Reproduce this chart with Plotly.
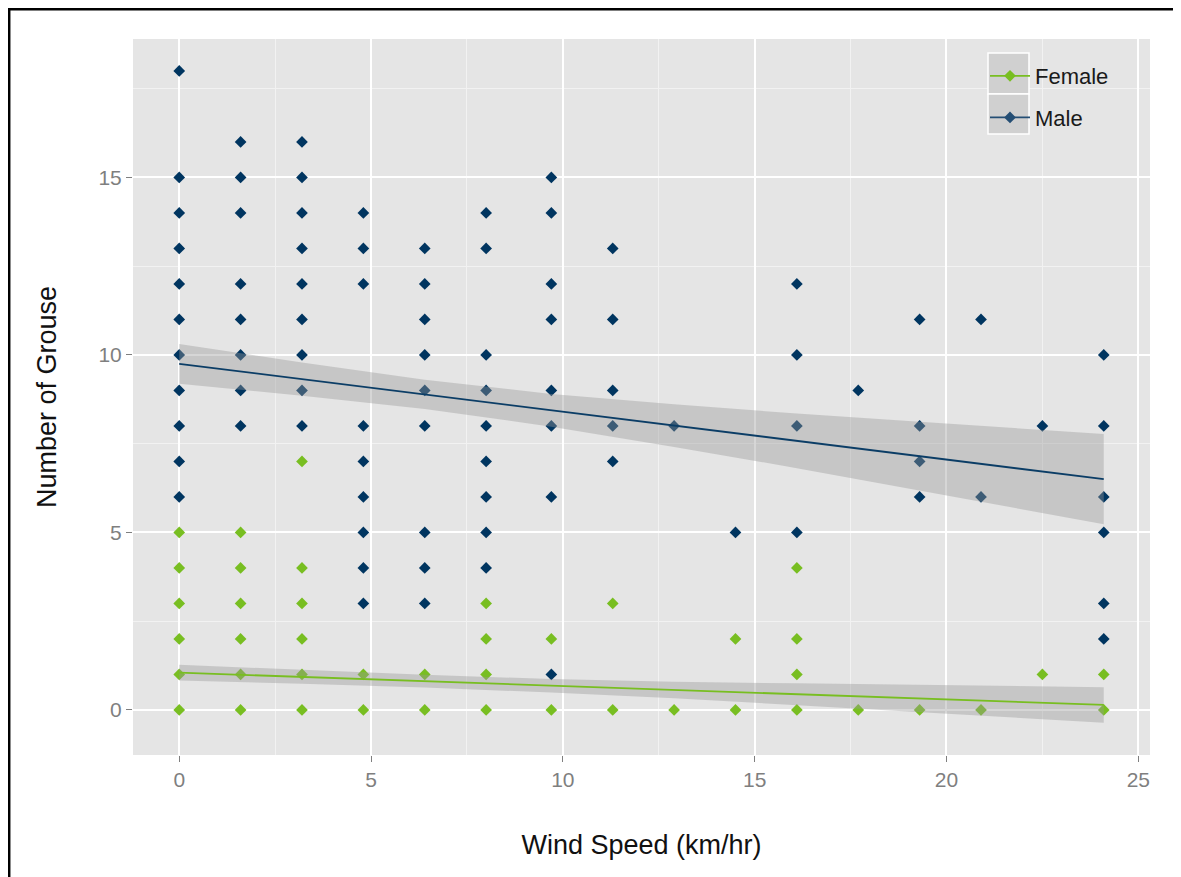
import plotly.graph_objects as go

# ---------------- data ----------------
wind_levels = [0, 1.6, 3.2, 4.8, 6.4, 8.0, 9.7, 11.3, 12.9, 14.5, 16.1, 17.7, 19.3, 20.9, 22.5, 24.1]

male_counts = [
    [18, 15, 14, 13, 12, 11, 10, 9, 8, 7, 6],
    [16, 15, 14, 12, 11, 10, 9, 8],
    [16, 15, 14, 13, 12, 11, 10, 9, 8],
    [14, 13, 12, 8, 7, 6, 5, 4, 3],
    [13, 12, 11, 10, 9, 8, 5, 4, 3],
    [14, 13, 10, 9, 8, 7, 6, 5, 4],
    [15, 14, 12, 11, 9, 8, 6, 1],
    [13, 11, 9, 8, 7],
    [8],
    [5],
    [12, 10, 8, 5],
    [9],
    [11, 8, 7, 6],
    [11, 6],
    [8],
    [10, 8, 6, 5, 3, 2],
]

female_counts = [
    [5, 4, 3, 2, 1, 0],
    [5, 4, 3, 2, 1, 0],
    [7, 4, 3, 2, 1, 0],
    [1, 0],
    [1, 0],
    [3, 2, 1, 0],
    [2, 0],
    [3, 0],
    [0],
    [2, 0],
    [4, 2, 1, 0],
    [0],
    [0],
    [0],
    [1],
    [1, 0],
]

# fitted linear trend and 95% band
fit_x = [0, 3.2, 6.4, 9.7, 12.9, 16.1, 19.3, 24.1]
male_fit = [9.75, 9.32, 8.89, 8.44, 8.01, 7.58, 7.15, 6.50]
male_hi = [10.31, 9.79, 9.30, 8.90, 8.61, 8.35, 8.12, 7.77]
male_lo = [9.19, 8.85, 8.48, 7.98, 7.41, 6.81, 6.18, 5.23]
female_fit = [1.05, 0.93, 0.81, 0.68, 0.56, 0.44, 0.32, 0.14]
female_hi = [1.27, 1.12, 0.99, 0.87, 0.79, 0.75, 0.71, 0.64]
female_lo = [0.83, 0.74, 0.63, 0.49, 0.33, 0.13, -0.07, -0.36]

x_ticks = [0, 5, 10, 15, 20, 25]
y_ticks = [0, 5, 10, 15]

# ---------------- styling ----------------
MALE = "#003560"
FEMALE = "#78BE21"
BAND = "rgba(153,153,153,0.4)"
FONT = "Liberation Sans, Arial, sans-serif"


def expand(levels, counts):
    xs, ys = [], []
    for lv, cs in zip(levels, counts):
        for c in cs:
            xs.append(lv)
            ys.append(c)
    return xs, ys


fx, fy = expand(wind_levels, female_counts)
mx, my = expand(wind_levels, male_counts)

fig = go.Figure()

# points
fig.add_trace(go.Scatter(x=fx, y=fy, mode="markers", showlegend=False,
                         marker=dict(symbol="diamond", size=9, color=FEMALE, line=dict(width=0))))
fig.add_trace(go.Scatter(x=mx, y=my, mode="markers", showlegend=False,
                         marker=dict(symbol="diamond", size=9, color=MALE, line=dict(width=0))))

# confidence bands + lines
for fit, hi, lo, col in [(female_fit, female_hi, female_lo, FEMALE),
                         (male_fit, male_hi, male_lo, "#0B3D66")]:
    fig.add_trace(go.Scatter(x=fit_x + fit_x[::-1], y=hi + lo[::-1], mode="lines",
                             fill="toself", fillcolor=BAND, line=dict(width=0),
                             hoverinfo="skip", showlegend=False))
    fig.add_trace(go.Scatter(x=fit_x, y=fit, mode="lines", showlegend=False,
                             line=dict(color=col, width=1.8)))

# legend entries
fig.add_trace(go.Scatter(x=[None], y=[None], mode="lines+markers", name="Female",
                         legendgroup="f",
                         line=dict(color=FEMALE, width=1.8),
                         marker=dict(symbol="diamond", size=9, color=FEMALE)))
fig.add_trace(go.Scatter(x=[None], y=[None], mode="lines+markers", name="Male",
                         legendgroup="m",
                         line=dict(color="#244E74", width=1.8),
                         marker=dict(symbol="diamond", size=9, color="#244E74")))

# The page body has an 8px margin, so the figure is drawn 8px in from the window edge.
OFF = 8
W, H = 1181 - OFF, 877 - OFF
L, R, T, B = 133 - OFF, 1181 - 1150, 39 - OFF, 877 - 755
pw, ph = W - L - R, H - T - B


def px_x(p):
    """screen px -> paper x"""
    return (p - OFF - L) / pw


def px_y(p):
    """screen px -> paper y"""
    return (H - B - (p - OFF)) / ph


shapes = [
    # legend key backgrounds
    dict(type="rect", xref="paper", yref="paper",
         x0=px_x(988), x1=px_x(1029), y0=px_y(94), y1=px_y(53),
         fillcolor="#D0D0D0", line=dict(color="white", width=1.5), layer="above"),
    dict(type="rect", xref="paper", yref="paper",
         x0=px_x(988), x1=px_x(1029), y0=px_y(134), y1=px_y(94),
         fillcolor="#D0D0D0", line=dict(color="white", width=1.5), layer="above"),
    # outer frame
    dict(type="rect", xref="paper", yref="paper",
         x0=px_x(OFF + 1.2), x1=px_x(1178), y0=px_y(900), y1=px_y(OFF + 1.2),
         fillcolor="rgba(0,0,0,0)", line=dict(color="black", width=2.5), layer="above"),
]

axis_common = dict(
    showline=False, zeroline=False,
    gridcolor="white", gridwidth=1.6,
    ticks="outside", ticklen=6, tickwidth=1.2, tickcolor="#7F7F7F",
    tickfont=dict(family=FONT, size=21, color="#7F7F7F"),
)

fig.update_layout(
    width=W, height=H,
    margin=dict(l=L, r=R, t=T, b=B, autoexpand=False),
    paper_bgcolor="white",
    plot_bgcolor="#E5E5E5",
    font=dict(family=FONT),
    shapes=shapes,
    showlegend=True,
    legend=dict(
        x=px_x(985), y=px_y(55), xanchor="left", yanchor="top",
        bgcolor="rgba(0,0,0,0)", borderwidth=0,
        font=dict(family=FONT, size=22, color="#1A1A1A"),
        traceorder="grouped", tracegroupgap=10,
        itemwidth=40,
    ),
    xaxis=dict(
        range=[-1.205, 25.305], tickvals=x_ticks,
        title=dict(text="Wind Speed (km/hr)", standoff=44,
                   font=dict(family=FONT, size=27, color="#111111")),
        minor=dict(dtick=2.5, tick0=0, showgrid=True, gridcolor="#F2F2F2", gridwidth=0.8, ticks=""),
        **axis_common,
    ),
    yaxis=dict(
        range=[-1.27, 18.9], tickvals=y_ticks,
        title=dict(text="Number of Grouse", standoff=33,
                   font=dict(family=FONT, size=27, color="#111111")),
        minor=dict(dtick=2.5, tick0=0, showgrid=True, gridcolor="#F2F2F2", gridwidth=0.8, ticks=""),
        **axis_common,
    ),
)

fig.write_html("out.html")
